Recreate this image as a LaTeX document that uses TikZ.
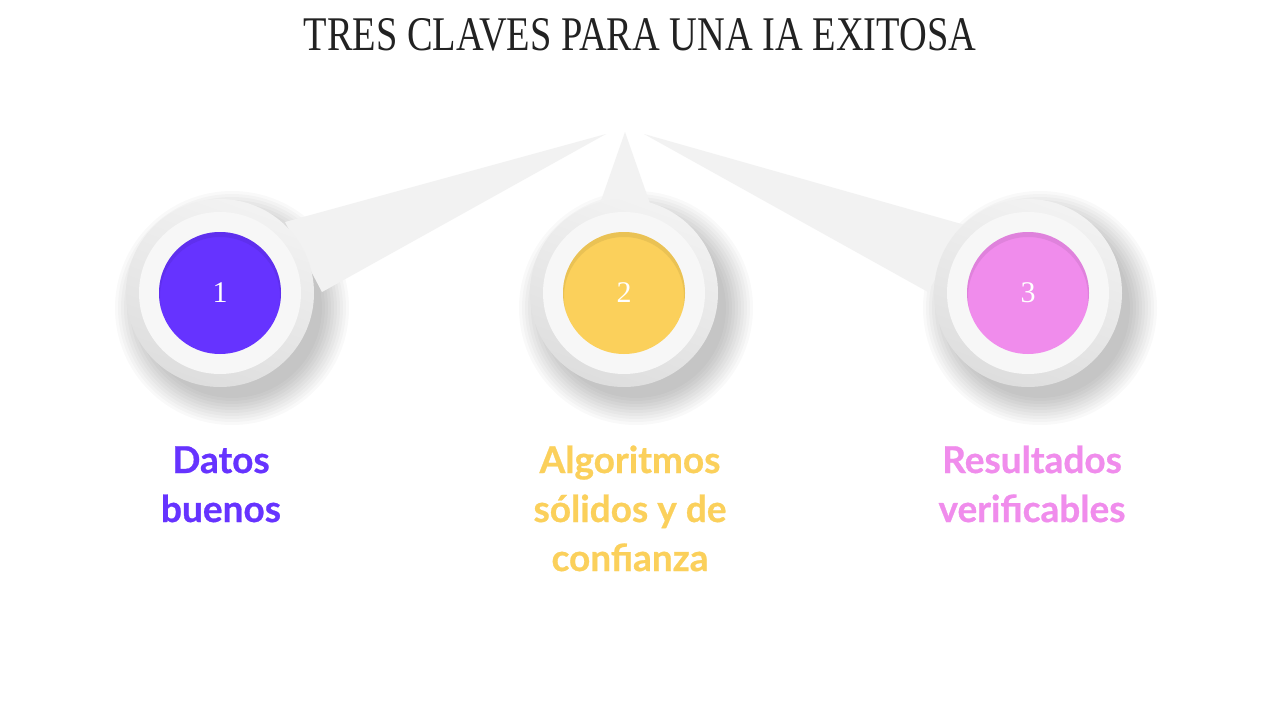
\documentclass[tikz,border=0pt]{standalone}
\usepackage{fontspec}
\setmainfont{Liberation Serif}
\newfontfamily\labelfont[BoldFeatures={FakeBold=0.7}]{Lato}
\usetikzlibrary{calc}
\definecolor{cpurple}{HTML}{6633FF}
\definecolor{cyellow}{HTML}{FBD05B}
\definecolor{cpink}{HTML}{F08CEC}
\definecolor{fangray}{HTML}{F2F2F2}
\definecolor{titlegray}{HTML}{222222}
\tikzset{
  fan/.style={fill=fangray, draw=none},
  numtext/.style={text=white, font=\fontsize{30}{30}\selectfont, inner sep=0pt},
  keylabel/.style={font=\labelfont\bfseries\fontsize{37}{49}\selectfont, align=center, inner sep=0pt, anchor=base}
}
\newcommand{\keycircle}[3]{%
  % #1 = name, #2 = colour, #3 = number
  \shade[top color=black!5, bottom color=black!13, shading angle=-20] (#1) circle (94);
  \fill[black!3] (#1) circle (81);
  \fill[#2] (#1) circle (61);
  \begin{scope}
    \clip (#1) circle (61);
    \fill[#2!78!black, opacity=0.3, even odd rule] (#1) circle (62) ($(#1)+(0,4)$) circle (60);
  \end{scope}
  \node[numtext] at (#1) {#3};
}
\begin{document}
\begin{tikzpicture}[x=1pt, y=-1pt]
\useasboundingbox[fill=white] (0,0) rectangle (1280,720);
\coordinate (c1) at (220,293);
\coordinate (c2) at (624,293);
\coordinate (c3) at (1028,293);
\coordinate (apex) at (625,132);
% shadows
\foreach \c in {c1,c2,c3}{
  \foreach \r in {90,93,...,117}{
    \fill[black, opacity=0.022] ($(\c)+(12,15)$) circle (\r);
  }
}
% fans
\fill[fan] (606,134) -- (285,222) -- (322,292) -- cycle;
\fill[fan] (644,134) -- (965,225) -- (928,292) -- cycle;
\fill[fan] (apex) -- (596,215) -- (654,215) -- cycle;
% circles
\keycircle{c1}{cpurple}{1}
\keycircle{c2}{cyellow}{2}
\keycircle{c3}{cpink}{3}
% title
\node[text=titlegray, inner sep=0pt, anchor=base] (title) at (640,50)
  {\resizebox{672pt}{32pt}{TRES CLAVES PARA UNA IA EXITOSA}};
% labels (anchor base = baseline of last line)
\node[keylabel, text=cpurple] (l1) at (221,522) {Datos\\buenos};
\node[keylabel, text=cyellow] (l2) at (630,571) {Algoritmos\\sólidos y de\\confianza};
\node[keylabel, text=cpink] (l3) at (1032,522) {Resultados\\verificables};
\end{tikzpicture}
\end{document}
